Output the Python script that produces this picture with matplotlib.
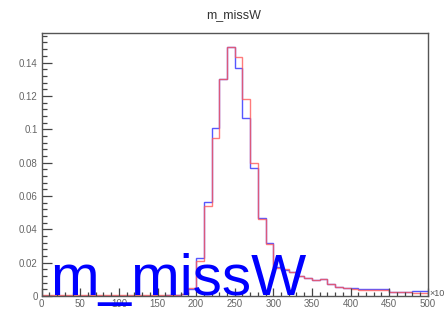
import numpy as np
import matplotlib
matplotlib.use("Agg")
from matplotlib import pyplot as plt
from matplotlib.ticker import MultipleLocator

plt.rcParams["font.family"] = ["Liberation Sans", "DejaVu Sans"]

# 50 bins of width 10 between 0 and 500, normalised to unit area
BIN_EDGES = list(range(0, 501, 10))

blue_counts = [
    0.0003, 0.0003, 0.0003, 0.0003, 0.0003, 0.0003, 0.0003, 0.0003, 0.0003, 0.0003,
    0.0003, 0.0003, 0.0003, 0.0003, 0.0003, 0.0003, 0.0004, 0.0005, 0.0010, 0.0040,
    0.0230, 0.0565, 0.1010, 0.1300, 0.1490, 0.1370, 0.1070, 0.0770, 0.0470, 0.0320,
    0.0175, 0.0158, 0.0145, 0.0120, 0.0110, 0.0095, 0.0100, 0.0070, 0.0055, 0.0050,
    0.0050, 0.0040, 0.0040, 0.0040, 0.0040, 0.0025, 0.0025, 0.0025, 0.0030, 0.0030,
]
red_counts = [
    0.0005, 0.0005, 0.0005, 0.0005, 0.0005, 0.0005, 0.0005, 0.0005, 0.0005, 0.0005,
    0.0005, 0.0005, 0.0005, 0.0005, 0.0005, 0.0005, 0.0005, 0.0006, 0.0010, 0.0050,
    0.0210, 0.0540, 0.0950, 0.1300, 0.1490, 0.1430, 0.1180, 0.0800, 0.0460, 0.0310,
    0.0170, 0.0160, 0.0145, 0.0120, 0.0110, 0.0095, 0.0100, 0.0070, 0.0055, 0.0050,
    0.0045, 0.0035, 0.0035, 0.0035, 0.0035, 0.0024, 0.0024, 0.0024, 0.0020, 0.0020,
]

X_TICKS = list(range(0, 501, 50))
Y_TICKS = [0, 0.02, 0.04, 0.06, 0.08, 0.1, 0.12, 0.14]
Y_TICK_LABELS = ["0", "0.02", "0.04", "0.06", "0.08", "0.1", "0.12", "0.14"]

TITLE = "m_missW"


def main():
    fig = plt.figure(figsize=(4.46, 3.25), dpi=100)
    ax = fig.add_axes([0.0935, 0.0892, 0.8655, 0.8083])

    ax.stairs(blue_counts, BIN_EDGES, color="#3a3aff", lw=1.0, alpha=0.85, baseline=None)
    ax.stairs(red_counts, BIN_EDGES, color="#ff5a5a", lw=1.0, alpha=0.8, baseline=None)

    ax.set_xlim(0, 500)
    ax.set_ylim(0, 0.1575)

    # ROOT-like axes: ticks inside, only on left and bottom
    ax.set_xticks(X_TICKS)
    ax.set_xticklabels([str(t) for t in X_TICKS])
    ax.xaxis.set_minor_locator(MultipleLocator(10))
    ax.set_yticks(Y_TICKS)
    ax.set_yticklabels(Y_TICK_LABELS)
    ax.yaxis.set_minor_locator(MultipleLocator(0.004))
    ax.tick_params(which="both", direction="in", top=False, right=False,
                   colors="#444444", labelcolor="#666666", labelsize=7, width=0.9)
    ax.tick_params(axis="y", which="major", length=7, pad=3)
    ax.tick_params(axis="y", which="minor", length=3.5)
    ax.tick_params(axis="x", which="major", length=6, pad=2)
    ax.tick_params(axis="x", which="minor", length=3)
    for spine in ax.spines.values():
        spine.set_color("#555555")
        spine.set_linewidth(1.0)

    fig.text(0.523, 0.953, TITLE, ha="center", va="center", fontsize=9, color="#333333")
    fig.text(0.962, 0.098, "×10", ha="left", va="center", fontsize=6.5, color="#555555")

    # large overlay label in the lower left
    fig.text(0.112, 0.092, TITLE, ha="left", va="baseline", fontsize=42, color="#0000ff")

    fig.savefig("out.png", dpi=100)


if __name__ == "__main__":
    main()
